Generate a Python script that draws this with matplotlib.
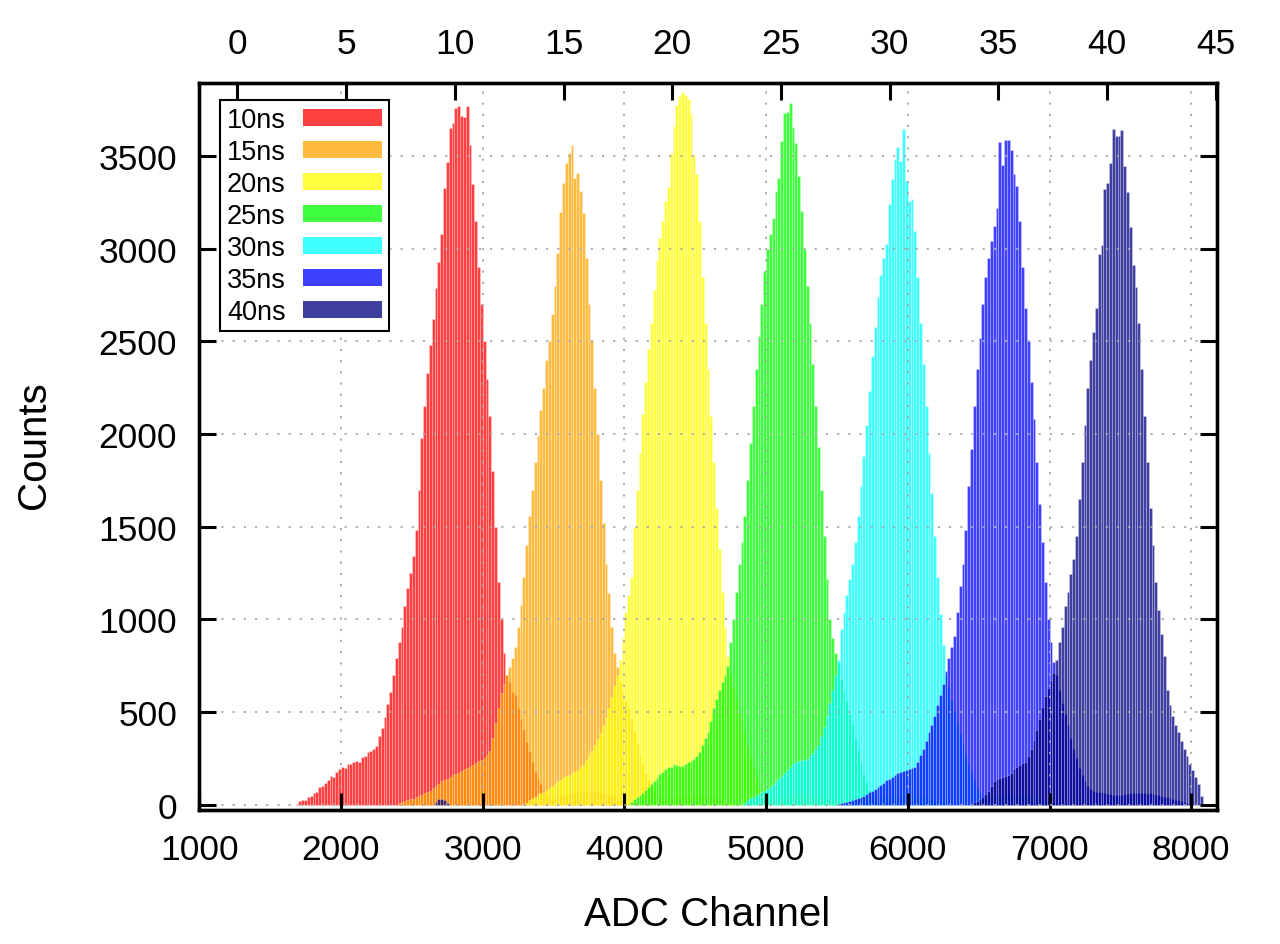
import matplotlib.pyplot as plt
from matplotlib.colors import to_rgba
from matplotlib.patches import Patch

plt.rcParams['font.family'] = ['Liberation Sans', 'DejaVu Sans']

# ADC histograms for the seven pulse widths, 20 channels per bin.
bin_width = 20
labels = ['10ns', '15ns', '20ns', '25ns', '30ns', '35ns', '40ns']
colors = ['red', 'orange', 'yellow', 'lime', 'cyan', 'blue', 'navy']
starts = [1680, 2400, 3280, 4040, 4840, 5500, 6440]

counts_10ns = [4, 18, 25, 22, 38, 45, 62, 70, 95, 102,
               118, 130, 155, 150, 175, 190, 205, 198, 218, 220,
               228, 235, 232, 258, 262, 285, 290, 300, 318, 372,
               415, 470, 545, 610, 700, 790, 880, 960, 1070, 1170,
               1250, 1340, 1480, 1700, 1980, 2150, 2330, 2480, 2620, 2790,
               2930, 3080, 3330, 3470, 3650, 3680, 3760, 3770, 3720, 3710,
               3770, 3560, 3350, 3150, 2900, 2700, 2500, 2300, 2100, 1800,
               1500, 1200, 1000, 820, 700, 660, 610, 590, 520, 460,
               410, 340, 290, 230, 175, 140, 110, 75, 55, 40,
               30, 35, 40, 45, 52, 55, 60, 65, 62, 70,
               72, 75, 70, 78, 80, 75, 72, 70, 62, 58,
               50, 45, 38, 30, 22, 15, 10, 5]
counts_15ns = [8, 12, 18, 22, 28, 30, 38, 45, 52, 60,
               65, 75, 88, 100, 112, 125, 130, 140, 148, 160,
               165, 172, 180, 190, 198, 205, 215, 222, 235, 240,
               250, 268, 290, 360, 440, 520, 600, 650, 700, 740,
               790, 850, 960, 1075, 1230, 1400, 1560, 1700, 1850, 1990,
               2130, 2250, 2400, 2500, 2650, 2800, 2980, 3200, 3356, 3465,
               3518, 3561, 3380, 3409, 3314, 3194, 2950, 2700, 2500, 2250,
               2000, 1750, 1520, 1300, 1140, 960, 820, 740, 660, 600,
               560, 520, 460, 395, 330, 270, 220, 170, 130, 100,
               70, 50, 35, 30, 32, 35, 38, 42, 45, 48,
               50, 52, 55, 55, 58, 55, 55, 52, 50, 48,
               45, 40, 35, 30, 25, 20, 15, 10, 5]
counts_20ns = [3, 10, 22, 35, 42, 55, 62, 70, 80, 88,
               100, 110, 125, 135, 148, 155, 162, 170, 175, 188,
               200, 215, 240, 270, 290, 320, 355, 385, 430, 470,
               520, 580, 640, 700, 780, 900, 1040, 1130, 1230, 1500,
               1700, 1900, 2110, 2280, 2460, 2600, 2780, 2940, 3060, 3150,
               3260, 3336, 3518, 3662, 3777, 3827, 3849, 3833, 3809, 3728,
               3507, 3404, 3150, 2850, 2600, 2350, 2100, 1850, 1600, 1380,
               1150, 960, 800, 700, 630, 570, 500, 450, 390, 320,
               260, 195, 150, 100, 65, 45, 38, 35, 38, 40,
               45, 48, 50, 55, 55, 58, 60, 58, 58, 55,
               55, 52, 50, 45, 42, 38, 32, 28, 22, 18,
               12, 8, 4]
counts_25ns = [15, 28, 40, 50, 62, 78, 95, 110, 127, 145,
               165, 178, 190, 200, 205, 218, 212, 208, 210, 220,
               228, 235, 248, 260, 285, 320, 360, 390, 450, 520,
               570, 620, 660, 700, 750, 880, 1000, 1150, 1300, 1420,
               1560, 1750, 1950, 2150, 2350, 2530, 2700, 2880, 3000, 3080,
               3167, 3314, 3385, 3584, 3734, 3737, 3786, 3660, 3570, 3395,
               3206, 3000, 2800, 2600, 2380, 2150, 1930, 1700, 1450, 1220,
               1000, 900, 820, 760, 680, 610, 560, 490, 430, 360,
               295, 230, 165, 120, 80, 55, 42, 38, 40, 42,
               45, 48, 50, 52, 55, 58, 58, 55, 58, 55,
               52, 50, 48, 45, 40, 36, 30, 25, 20, 15,
               10, 5]
counts_30ns = [10, 25, 35, 42, 50, 58, 65, 75, 84, 95,
               110, 125, 140, 156, 170, 185, 205, 225, 230, 235,
               238, 242, 246, 262, 280, 300, 320, 370, 420, 480,
               550, 620, 700, 780, 950, 1040, 1130, 1220, 1300, 1420,
               1560, 1720, 1880, 2050, 2230, 2420, 2580, 2740, 2860, 2950,
               3026, 3242, 3377, 3485, 3548, 3473, 3647, 3368, 3257, 3269,
               3098, 2850, 2600, 2380, 2150, 1900, 1680, 1450, 1230, 1030,
               860, 700, 630, 565, 500, 440, 380, 320, 270, 220,
               175, 130, 90, 65, 45, 35, 38, 40, 42, 45,
               48, 50, 52, 55, 55, 58, 55, 55, 52, 50,
               48, 45, 42, 38, 32, 28, 22, 18, 12, 8,
               4]
counts_35ns = [5, 8, 12, 15, 20, 25, 30, 35, 40, 48,
               55, 65, 75, 85, 95, 105, 118, 130, 140, 150,
               158, 168, 175, 182, 188, 192, 198, 205, 230, 265,
               300, 345, 390, 430, 480, 540, 590, 650, 720, 790,
               850, 910, 1040, 1180, 1300, 1480, 1720, 1920, 2150, 2350,
               2520, 2700, 2850, 2950, 3044, 3125, 3221, 3576, 3455, 3588,
               3588, 3534, 3404, 3341, 3149, 2900, 2680, 2500, 2280, 2080,
               1850, 1620, 1420, 1200, 1000, 880, 770, 700, 620, 550,
               490, 430, 360, 300, 250, 195, 160, 125, 100, 85,
               75, 70, 68, 66, 60, 58, 55, 52, 50, 50,
               52, 55, 58, 60, 62, 62, 60, 62, 60, 58,
               60, 55, 52, 50, 45, 42, 38, 35, 30, 26,
               22, 18, 14, 10, 6, 3]
counts_40ns = [5, 12, 20, 28, 40, 55, 75, 100, 125, 138,
               145, 150, 155, 158, 170, 190, 205, 215, 225, 232,
               262, 300, 350, 405, 460, 525, 585, 630, 675, 710,
               780, 880, 960, 1073, 1147, 1245, 1326, 1450, 1650, 1850,
               2050, 2250, 2400, 2550, 2680, 2972, 3021, 3323, 3354, 3462,
               3647, 3608, 3611, 3644, 3448, 3306, 3117, 2913, 2793, 2600,
               2350, 2100, 1850, 1600, 1400, 1200, 1050, 920, 800, 620,
               540, 480, 430, 390, 345, 300, 260, 220, 185, 150,
               110, 45]
# small stray bump of the 40ns run near channel 2700
start_40ns_low = 2660
counts_40ns_low = [12, 28, 30, 22, 8]

all_counts = [counts_10ns, counts_15ns, counts_20ns, counts_25ns,
              counts_30ns, counts_35ns, counts_40ns]

x_ticks = [1000, 2000, 3000, 4000, 5000, 6000, 7000, 8000]
y_ticks = [0, 500, 1000, 1500, 2000, 2500, 3000, 3500]
top_ticks = [0, 5, 10, 15, 20, 25, 30, 35, 40, 45]


def draw_hist(ax, start, counts, color):
    """Teken een histogram als losse balken met lichte randjes."""
    edges = [start + i * bin_width for i in range(len(counts))]
    ax.bar(edges, counts, width=bin_width, align='edge',
           facecolor=to_rgba(color, 0.75), edgecolor=(1, 1, 1, 0.35),
           linewidth=0.5)


fig = plt.figure(figsize=(12.8, 9.45), dpi=100)
ax = fig.add_axes([0.1557, 0.1421, 0.7953, 0.7685])

for start, counts, color in zip(starts, all_counts, colors):
    draw_hist(ax, start, counts, color)
    if color == 'navy':
        draw_hist(ax, start_40ns_low, counts_40ns_low, color)

ax.set_xlim(1000, 8184)
ax.set_ylim(-28, 3893)
ax.set_xticks(x_ticks)
ax.set_yticks(y_ticks)
ax.grid(True, color='#a8a8a8', linestyle=(0, (1.2, 5)), linewidth=1.3)
ax.set_axisbelow(False)
ax.tick_params(direction='in', length=12, width=2.2, top=True, right=True,
               labelsize=25.5)
ax.tick_params(axis='x', pad=17)
ax.tick_params(axis='y', pad=16)

# bovenste as: pulsbreedte in ns
ax2 = ax.twiny()
ax2.set_xlim(-1.747, 45.06)
ax2.set_xticks(top_ticks)
ax2.tick_params(direction='in', length=12, width=2.2, labelsize=25.5, pad=17)

for a in (ax, ax2):
    for sp in a.spines.values():
        sp.set_linewidth(2.4)

ax.set_xlabel('ADC Channel', fontsize=29, va='center')
ax.xaxis.set_label_coords(0.4987, -0.1436)
ax.set_ylabel('Counts', fontsize=29, va='center')
ax.yaxis.set_label_coords(-0.1623, 0.5036)

handles = [Patch(facecolor=to_rgba(c, 0.75), edgecolor='none') for c in colors]
leg = ax.legend(handles, labels, loc='upper left', bbox_to_anchor=(0.0203, 0.977),
                markerfirst=False, fontsize=19.5, fancybox=False, edgecolor='black',
                framealpha=1, handlelength=2.9, handleheight=0.6,
                handletextpad=0.65, labelspacing=0.22, borderpad=0.25,
                borderaxespad=0)
leg.get_frame().set_linewidth(1.5)

fig.savefig('out.png', dpi=100)
